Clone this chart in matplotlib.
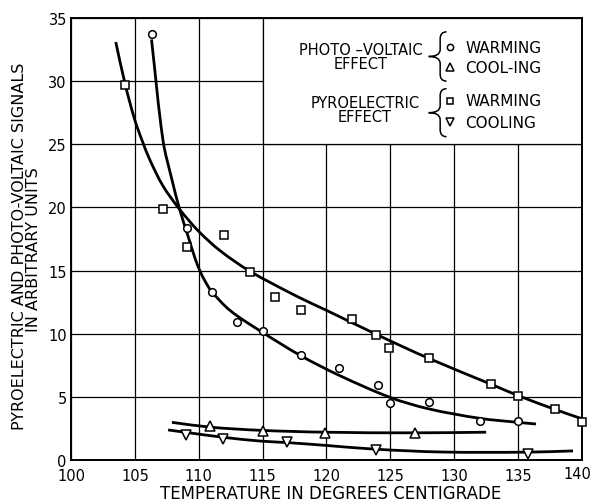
import numpy as np
import matplotlib
matplotlib.use("Agg")
import matplotlib.pyplot as plt
from matplotlib.path import Path
from matplotlib.patches import PathPatch, Rectangle

# measured points -------------------------------------------------------------
# photo-voltaic effect, warming (circles)
pv_warm_t = [106.3, 109.1, 111.0, 113.0, 115.0, 118.0, 121.0, 124.0, 125.0, 128.0, 132.0, 135.0]
pv_warm_s = [33.7, 18.4, 13.3, 10.9, 10.2, 8.3, 7.3, 5.9, 4.5, 4.6, 3.1, 3.1]

# photo-voltaic effect, cooling (up triangles)
pv_cool_t = [110.9, 115.0, 119.9, 126.9]
pv_cool_s = [2.7, 2.3, 2.1, 2.1]

# pyroelectric effect, warming (squares)
pyro_warm_t = [104.2, 107.2, 109.1, 112.0, 114.0, 116.0, 118.0, 122.0, 123.9, 124.9,
               128.0, 132.9, 135.0, 137.9, 140.0]
pyro_warm_s = [29.7, 19.9, 16.9, 17.8, 14.9, 12.9, 11.9, 11.2, 9.9, 8.9,
               8.1, 6.0, 5.1, 4.0, 3.0]

# pyroelectric effect, cooling (down triangles)
pyro_cool_t = [109.0, 111.9, 116.9, 123.9, 135.8]
pyro_cool_s = [2.0, 1.7, 1.4, 0.8, 0.5]

# hand drawn curves through each set (points picked along the drawn line)
pyro_warm_curve_t = [103.5, 104.25, 105.0, 105.6, 106.2, 107.2, 108.5, 110.0, 111.7, 114.0,
                     117.7, 120.0, 124.0, 128.0, 133.0, 135.0, 137.9, 139.9]
pyro_warm_curve_s = [33.1, 29.7, 26.9, 25.2, 23.7, 21.7, 19.85, 18.1, 16.55, 14.95,
                     12.95, 11.85, 9.9, 8.05, 5.95, 5.1, 4.0, 3.3]

pv_warm_curve_t = [106.3, 107.2, 107.9, 108.5, 109.2, 109.7, 110.1, 110.5, 111.0,
                   112.5, 115.0, 118.0, 121.0, 125.0, 128.0, 132.0, 135.0, 136.4]
pv_warm_curve_s = [33.3, 25.3, 22.2, 19.85, 17.6, 16.0, 14.95, 14.15, 13.35,
                   11.8, 10.1, 8.25, 6.7, 4.95, 4.05, 3.3, 2.98, 2.85]

pv_cool_curve_t = [107.9, 110.9, 114.8, 119.9, 126.9, 132.5]
pv_cool_curve_s = [2.98, 2.6, 2.35, 2.2, 2.15, 2.2]

pyro_cool_curve_t = [107.6, 108.9, 111.9, 114.8, 116.9, 120.0, 123.9, 129.1, 135.7, 139.3]
pyro_cool_curve_s = [2.38, 2.2, 1.8, 1.5, 1.38, 1.15, 0.85, 0.63, 0.62, 0.72]

x_ticks = [100, 105, 110, 115, 120, 125, 130, 135, 140]
y_ticks = [0, 5, 10, 15, 20, 25, 30, 35]

plt.rcParams['font.family'] = 'DejaVu Sans'

fig = plt.figure(figsize=(5.92, 5.02), dpi=100)
ax = fig.add_axes([0.12, 0.0817, 0.863, 0.8805])

ax.set_xlim(100, 140)
ax.set_ylim(0, 35)
ax.set_xticks(x_ticks)
ax.set_xticklabels([str(t) for t in x_ticks[:-1]] + [''])
ax.set_yticks(y_ticks)
ax.tick_params(length=0, labelsize=10.5)
ax.tick_params(axis='x', pad=6)
ax.tick_params(axis='y', pad=3)
# last x label pulled in a little so it stays on the page
ax.annotate(str(x_ticks[-1]), xy=(x_ticks[-1], 0), xytext=(-3, -4.3),
            textcoords='offset points', ha='center', va='top', fontsize=10.5,
            annotation_clip=False)
ax.grid(True, color='black', lw=0.9)
ax.set_axisbelow(True)
for sp in ax.spines.values():
    sp.set_linewidth(1.4)

# key box in the upper right, blanks out the grid behind it
ax.add_patch(Rectangle((115, 25), 25, 10, facecolor='white', edgecolor='black',
                       lw=0.9, zorder=1))


def smooth_line(xs, ys, lw=2.0):
    # bezier path through the picked points, tangents from neighbouring points
    p = np.column_stack([xs, ys]).astype(float)
    n = len(p)
    tan = np.zeros_like(p)
    for i in range(n):
        a = p[max(i - 1, 0)]
        b = p[min(i + 1, n - 1)]
        d = b - a
        tan[i] = d / np.hypot(*d)
    verts = [p[0]]
    codes = [Path.MOVETO]
    for i in range(n - 1):
        seg = np.hypot(*(p[i + 1] - p[i])) / 3
        verts += [p[i] + tan[i] * seg, p[i + 1] - tan[i + 1] * seg, p[i + 1]]
        codes += [Path.CURVE4] * 3
    ax.add_patch(PathPatch(Path(verts, codes), fill=False, lw=lw, zorder=2,
                           capstyle='butt'))


smooth_line(pyro_warm_curve_t, pyro_warm_curve_s)
smooth_line(pv_warm_curve_t, pv_warm_curve_s)
smooth_line(pv_cool_curve_t, pv_cool_curve_s)
smooth_line(pyro_cool_curve_t, pyro_cool_curve_s)

mk_kw = dict(ls='none', mfc='white', mec='black', mew=1.1, zorder=3, clip_on=False)
ax.plot(pv_warm_t, pv_warm_s, marker='o', ms=5.5, **mk_kw)
ax.plot(pyro_warm_t, pyro_warm_s, marker='s', ms=5.5, **mk_kw)
ax.plot(pv_cool_t, pv_cool_s, marker='^', ms=6.5, **mk_kw)
ax.plot(pyro_cool_t, pyro_cool_s, marker='v', ms=6.5, **mk_kw)


def brace(x, y0, y1, w=0.5, tip=0.9, r=0.55):
    ym = (y0 + y1) / 2
    verts = [(x + w, y1), (x, y1), (x, y1 - r), (x, ym + r), (x, ym), (x - tip, ym),
             (x, ym), (x, ym - r), (x, y0 + r), (x, y0), (x + w, y0)]
    codes = [Path.MOVETO, Path.CURVE3, Path.CURVE3, Path.LINETO, Path.CURVE3, Path.CURVE3,
             Path.CURVE3, Path.CURVE3, Path.LINETO, Path.CURVE3, Path.CURVE3]
    ax.add_patch(PathPatch(Path(verts, codes), fill=False, lw=1.1, zorder=4))


fs = 10.5
ax.text(122.7, 31.95, 'PHOTO \u2013VOLTAIC\nEFFECT', ha='center', va='center',
        fontsize=fs, linespacing=0.95, zorder=4)
ax.text(123.0, 27.75, 'PYROELECTRIC\nEFFECT', ha='center', va='center',
        fontsize=fs, linespacing=0.95, zorder=4)
brace(128.9, 30.0, 33.9)
brace(128.9, 25.6, 29.4)

ax.plot([129.7], [32.7], marker='o', ms=4.5, **mk_kw)
ax.plot([129.7], [31.1], marker='^', ms=6, **mk_kw)
ax.plot([129.7], [28.45], marker='s', ms=5, **mk_kw)
ax.plot([129.7], [26.75], marker='v', ms=6, **mk_kw)
ax.text(130.85, 32.7, 'WARMING', va='center', fontsize=11, zorder=4)
ax.text(130.85, 31.1, 'COOL-ING', va='center', fontsize=11, zorder=4)
ax.text(130.85, 28.45, 'WARMING', va='center', fontsize=11, zorder=4)
ax.text(130.85, 26.75, 'COOLING', va='center', fontsize=11, zorder=4)

# axis titles
fig.text(331 / 592, 3 / 502, 'TEMPERATURE IN DEGREES CENTIGRADE', ha='center',
         va='baseline', fontsize=12)
fig.text(20 / 592, 1 - 246 / 502, 'PYROELECTRIC AND PHOTO-VOLTAIC SIGNALS', rotation=90,
         ha='center', va='center', fontsize=11.5)
fig.text(34 / 592, 1 - 250 / 502, 'IN ARBITRARY UNITS', rotation=90,
         ha='center', va='center', fontsize=11.5)

fig.savefig('out.png', dpi=100)
